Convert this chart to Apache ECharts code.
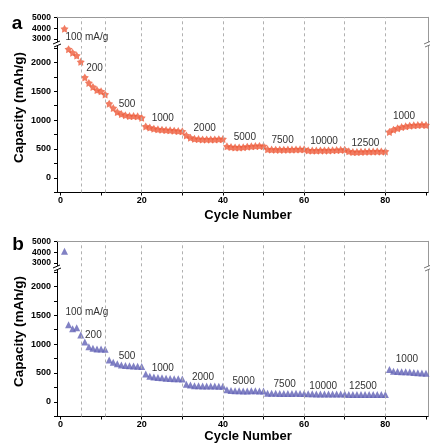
<!DOCTYPE html>
<html>
<head>
<meta charset="utf-8">
<script src="https://cdn.jsdelivr.net/npm/echarts@6/dist/echarts.min.js"></script>
<style>
  body { margin: 0; background: #fff; }
  #chart { width: 430px; height: 444px; }
</style>
</head>
<body>
<div id="chart"></div>
<script>
// cycle numbers
const cycles = [
  1, 2, 3, 4, 5, 6, 7, 8, 9, 10, 11, 12, 13, 14, 15, 16, 17, 18, 19, 20,
  21, 22, 23, 24, 25, 26, 27, 28, 29, 30, 31, 32, 33, 34, 35, 36, 37, 38, 39, 40,
  41, 42, 43, 44, 45, 46, 47, 48, 49, 50, 51, 52, 53, 54, 55, 56, 57, 58, 59, 60,
  61, 62, 63, 64, 65, 66, 67, 68, 69, 70, 71, 72, 73, 74, 75, 76, 77, 78, 79, 80,
  81, 82, 83, 84, 85, 86, 87, 88, 89, 90
]

// panel a capacity (mAh/g)
const capacityA = [
  3950,
  2230, 2170, 2120, 2010,
  1740, 1645, 1575, 1520, 1500, 1445,
  1285, 1210, 1140, 1105, 1085, 1070, 1070, 1065, 1040,
  890, 870, 852, 840, 835, 828, 823, 817, 811, 805,
  735, 695, 677, 672, 666, 666, 666, 666, 670, 672,
  545, 533, 527, 527, 530, 539, 545, 550, 552, 550,
  495, 490, 487, 487, 487, 490, 490, 492, 495, 495,
  475, 472, 472, 475, 475, 475, 478, 480, 485, 487,
  460, 446, 446, 450, 452, 455, 455, 457, 457, 457,
  795, 835, 858, 880, 892, 904, 910, 915, 920, 915
]

// panel b capacity (mAh/g)
const capacityB = [
  4080,
  1335, 1265, 1285, 1160,
  1035, 955, 930, 915, 915, 910,
  725, 685, 660, 640, 630, 625, 620, 615, 610,
  480, 445, 430, 420, 415, 410, 405, 400, 400, 395,
  305, 290, 280, 278, 275, 275, 272, 272, 270, 270,
  210, 195, 190, 190, 188, 188, 190, 190, 188, 188,
  150, 148, 146, 145, 145, 145, 145, 146, 145, 145,
  140, 138, 136, 135, 135, 136, 135, 135, 136, 135,
  128, 126, 125, 125, 126, 125, 125, 126, 125, 125,
  560, 530, 525, 520, 520, 515, 510, 505, 500, 495
]

// current density annotations
const rateLabels = ['100 mA/g', '200', '500', '1000', '2000', '5000', '7500', '10000', '12500', '1000']
const labelCycleA = [6.5, 8.4, 16.4, 25.2, 35.5, 45.4, 54.7, 64.9, 75.1, 84.6]
const labelCapA = [3190, 1906, 1275, 1036, 852, 706, 649, 631, 591, 1066]
const labelCycleB = [6.5, 8.1, 16.4, 25.2, 35.1, 45.1, 55.2, 64.7, 74.5, 85.3]
const labelCapB = [1560, 1160, 795, 581, 424, 348, 303, 278, 278, 743]

const dividers = [5, 11, 20, 30, 40, 50, 60, 70, 80]
const xTicks = [0, 20, 40, 60, 80]
const xMinorTicks = [0, 10, 20, 30, 40, 50, 60, 70, 80, 90]
const yTicksLow = [0, 500, 1000, 1500, 2000]
const yMinorLow = [-250, 0, 250, 500, 750, 1000, 1250, 1500, 1750, 2000, 2250]
const yTicksHigh = [3000, 4000, 5000]

const FONT = 'Liberation Sans, Arial, sans-serif'
const STAR = 'path://M50,0 L66.5,27.3 L97.6,34.5 L76.6,58.7 L79.4,90.5 L50,78 L20.6,90.5 L23.4,58.7 L2.4,34.5 L33.5,27.3 Z'
const plain = v => String(v)

const chart = echarts.init(document.getElementById('chart'))

const grids = []
const xAxes = []
const yAxes = []
const series = []
const graphics = []

function frameAxis(min, max) {
  return {
    type: 'value', min: min, max: max,
    axisLine: { show: true, onZero: false, lineStyle: { color: '#999', width: 1 } },
    axisTick: { show: false }, axisLabel: { show: false }, splitLine: { show: false }
  }
}

function addPanel(offset, values, symbol, size, color, labelX, labelY) {
  const g = grids.length
  grids.push({ left: 57, right: 2, top: 17.3 + offset, height: 25 })
  grids.push({ left: 57, right: 2, top: 46 + offset, height: 146.5 })

  // upper part: top frame line
  xAxes.push(Object.assign(frameAxis(-0.85, 90.5), { gridIndex: g, position: 'top' }))
  // lower part: cycle axis
  xAxes.push({
    gridIndex: g + 1, type: 'value', min: -0.85, max: 90.5, position: 'bottom',
    axisLine: { onZero: false, lineStyle: { color: '#000', width: 1 } },
    axisTick: { customValues: xMinorTicks, length: 3, lineStyle: { color: '#000' } },
    axisLabel: { customValues: xTicks, formatter: plain, margin: 4, color: '#000', fontWeight: 'bold', fontSize: 9, fontFamily: FONT },
    splitLine: { show: false }
  })

  const yLeftHigh = yAxes.length
  yAxes.push({
    gridIndex: g, type: 'value', min: 2700, max: 5000, position: 'left',
    axisLine: { onZero: false, lineStyle: { color: '#000', width: 1 } },
    axisTick: { customValues: yTicksHigh, length: 3, lineStyle: { color: '#000' } },
    axisLabel: { customValues: yTicksHigh, formatter: plain, margin: 6, color: '#000', fontWeight: 'bold', fontSize: 8.5, fontFamily: FONT },
    splitLine: { show: false }
  })
  yAxes.push(Object.assign(frameAxis(2700, 5000), { gridIndex: g, position: 'right' }))
  const yLeftLow = yAxes.length
  yAxes.push({
    gridIndex: g + 1, type: 'value', min: -255, max: 2285, position: 'left',
    axisLine: { onZero: false, lineStyle: { color: '#000', width: 1 } },
    axisTick: { customValues: yMinorLow, length: 3, lineStyle: { color: '#000' } },
    axisLabel: { customValues: yTicksLow, formatter: plain, margin: 6, color: '#000', fontWeight: 'bold', fontSize: 9, fontFamily: FONT },
    splitLine: { show: false }
  })
  yAxes.push(Object.assign(frameAxis(-255, 2285), { gridIndex: g + 1, position: 'right' }))

  const points = cycles.map((c, i) => [c, values[i]])
  const dividerLine = {
    silent: true, symbol: 'none', label: { show: false },
    lineStyle: { type: [3, 3], color: '#b0b0b0', width: 1 },
    data: dividers.map(d => ({ xAxis: d }))
  }
  const notes = (high) => ({
    symbol: 'circle', symbolSize: 0, silent: true,
    itemStyle: { color: 'transparent' },
    label: {
      show: true, position: 'inside', color: '#333', fontSize: 10, fontFamily: FONT,
      formatter: p => p.name
    },
    data: rateLabels
      .map((t, i) => ({ name: t, coord: [labelX[i], labelY[i]] }))
      .filter(d => (d.coord[1] > 2500) === high)
  })
  const marker = { type: 'scatter', symbol: symbol, symbolSize: size, clip: true, itemStyle: { color: color }, data: points }

  series.push(Object.assign({}, marker, { xAxisIndex: g, yAxisIndex: yLeftHigh, markLine: dividerLine, markPoint: notes(true) }))
  series.push(Object.assign({}, marker, { xAxisIndex: g + 1, yAxisIndex: yLeftLow, markLine: dividerLine, markPoint: notes(false) }))

  // axis break marks
  const by = 44 + offset
  ;[57, 428].forEach(x => {
    const stroke = x < 100 ? '#000' : '#777'
    graphics.push({ type: 'rect', shape: { x: x - 4, y: by - 2, width: 8, height: 4 }, style: { fill: '#fff' }, z: 100 })
    graphics.push({ type: 'line', shape: { x1: x - 4, y1: by, x2: x + 3, y2: by - 3 }, style: { stroke: stroke, lineWidth: 1 }, z: 101 })
    graphics.push({ type: 'line', shape: { x1: x - 3, y1: by + 3, x2: x + 4, y2: by }, style: { stroke: stroke, lineWidth: 1 }, z: 101 })
  })

  graphics.push({
    type: 'text', x: 19, y: 107.5 + offset, rotation: Math.PI / 2,
    style: { text: 'Capacity (mAh/g)', font: 'bold 13.5px ' + FONT, fill: '#000', textAlign: 'center', textVerticalAlign: 'middle' }
  })
}

addPanel(0, capacityA, STAR, 8, '#ee5b3b', labelCycleA, labelCapA)
addPanel(224, capacityB, 'triangle', 7, '#6161b5', labelCycleB, labelCapB)

graphics.push(
  { type: 'text', x: 248, y: 215, style: { text: 'Cycle Number', font: 'bold 13px ' + FONT, fill: '#000', textAlign: 'center', textVerticalAlign: 'middle' } },
  { type: 'text', x: 248, y: 436.5, style: { text: 'Cycle Number', font: 'bold 13px ' + FONT, fill: '#000', textAlign: 'center', textVerticalAlign: 'middle' } },
  { type: 'text', x: 17, y: 24, style: { text: 'a', font: 'bold 19px ' + FONT, fill: '#000', textAlign: 'center', textVerticalAlign: 'middle' } },
  { type: 'text', x: 18, y: 245, style: { text: 'b', font: 'bold 19px ' + FONT, fill: '#000', textAlign: 'center', textVerticalAlign: 'middle' } }
)

chart.setOption({
  animation: false,
  backgroundColor: '#fff',
  grid: grids,
  xAxis: xAxes,
  yAxis: yAxes,
  series: series,
  graphic: graphics
})
</script>
</body>
</html>
